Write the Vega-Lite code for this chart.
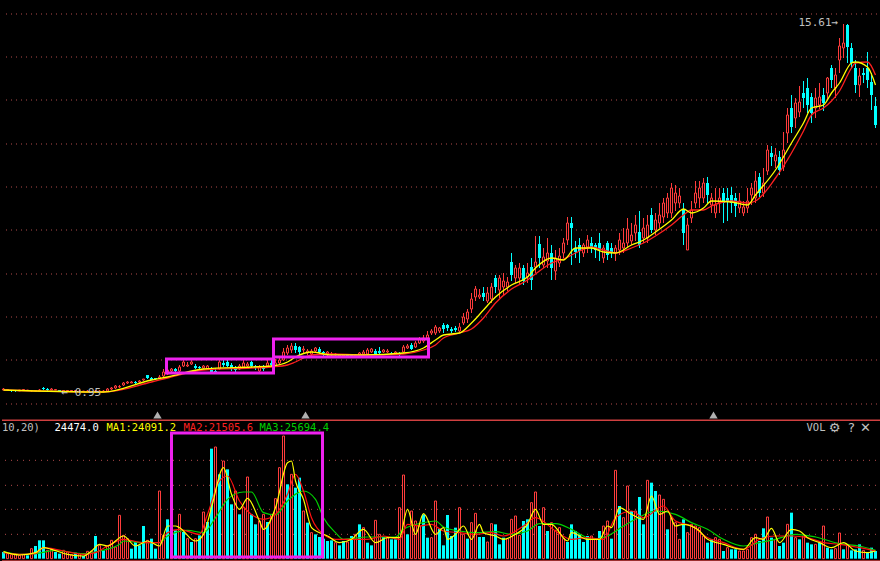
{"$schema":"https://vega.github.io/schema/vega-lite/v6.json","background":"#000000","padding":0,"spacing":0,"config":{"view":{"stroke":null},"concat":{"spacing":0},"scale":{"continuousPadding":0}},
"datasets":{
"candles":[
{"day":0,"open":3,"close":4,"high":5,"low":3},{"day":1,"open":3,"close":3.5,"high":4,"low":3},{"day":2,"open":3,"close":2,"high":3,"low":1},{"day":3,"open":3,"close":2,"high":3,"low":1},{"day":4,"open":2,"close":3,"high":3,"low":2},{"day":5,"open":3,"close":3.5,"high":4,"low":3},{"day":6,"open":2.5,"close":3,"high":3,"low":2},{"day":7,"open":2,"close":2.5,"high":3,"low":1},{"day":8,"open":2,"close":2.5,"high":3,"low":2},{"day":9,"open":2,"close":3,"high":4,"low":2},{"day":10,"open":5,"close":4,"high":6,"low":3},{"day":11,"open":4,"close":3,"high":5,"low":2},{"day":12,"open":3,"close":4,"high":5,"low":3},{"day":13,"open":3,"close":3.5,"high":4,"low":3},{"day":14,"open":3,"close":2,"high":3,"low":1},{"day":15,"open":2,"close":2.5,"high":3,"low":2},{"day":16,"open":2,"close":2.5,"high":3,"low":1},{"day":17,"open":2,"close":2.5,"high":3,"low":1},{"day":18,"open":2,"close":2.5,"high":3,"low":1},{"day":19,"open":1.5,"close":2,"high":3,"low":1},{"day":20,"open":1.5,"close":2,"high":2,"low":1},{"day":21,"open":1.5,"close":2,"high":3,"low":1},{"day":22,"open":1,"close":1.5,"high":2,"low":0},{"day":23,"open":1,"close":2,"high":3,"low":0},{"day":24,"open":1.5,"close":2,"high":3,"low":1},{"day":25,"open":1.5,"close":2,"high":3,"low":1},{"day":26,"open":2,"close":4,"high":5,"low":2},{"day":27,"open":4,"close":5,"high":6,"low":3},{"day":28,"open":5,"close":7,"high":8,"low":4},{"day":29,"open":6,"close":6.5,"high":8,"low":5},{"day":30,"open":8,"close":10,"high":11,"low":7},{"day":31,"open":10,"close":11,"high":12,"low":9},{"day":32,"open":10,"close":11,"high":12,"low":10},{"day":33,"open":11,"close":10,"high":12,"low":9},{"day":34,"open":11,"close":12,"high":13,"low":10},{"day":35,"open":13,"close":14,"high":14,"low":12},{"day":36,"open":18,"close":15,"high":18,"low":14},{"day":37,"open":15,"close":13,"high":16,"low":13},{"day":38,"open":15,"close":14,"high":15,"low":13},{"day":39,"open":15,"close":16,"high":18,"low":15},
{"day":40,"open":17,"close":21,"high":24,"low":16},{"day":41,"open":19,"close":23,"high":24,"low":18},{"day":42,"open":22,"close":24,"high":25,"low":20},{"day":43,"open":24,"close":22,"high":25,"low":21},{"day":44,"open":22,"close":26,"high":28,"low":21},{"day":45,"open":27,"close":31,"high":33,"low":26},{"day":46,"open":27,"close":28,"high":31,"low":26},{"day":47,"open":29,"close":31,"high":33,"low":28},{"day":48,"open":27,"close":25,"high":29,"low":24},{"day":49,"open":26,"close":25,"high":27,"low":23},{"day":50,"open":25,"close":27,"high":28,"low":24},{"day":51,"open":24,"close":27,"high":28,"low":23},{"day":52,"open":23,"close":21,"high":26,"low":20},{"day":53,"open":22,"close":20,"high":25,"low":19},{"day":54,"open":24,"close":31,"high":33,"low":23},{"day":55,"open":30,"close":28,"high":33,"low":26},{"day":56,"open":31,"close":27,"high":33,"low":26},{"day":57,"open":28,"close":24,"high":30,"low":22},{"day":58,"open":25,"close":23,"high":27,"low":21},{"day":59,"open":24,"close":27,"high":29,"low":23},{"day":60,"open":26,"close":30,"high":33,"low":25},{"day":61,"open":27,"close":29,"high":31,"low":25},{"day":62,"open":31,"close":27,"high":32,"low":25},{"day":63,"open":27,"close":25,"high":28,"low":23},{"day":64,"open":22,"close":26,"high":28,"low":21},{"day":65,"open":26,"close":24,"high":28,"low":22},{"day":66,"open":27,"close":30,"high":33,"low":26},{"day":67,"open":30,"close":28,"high":33,"low":26},{"day":68,"open":28,"close":30,"high":34,"low":27},{"day":69,"open":30,"close":33,"high":36,"low":28},{"day":70,"open":33,"close":41,"high":45,"low":32},{"day":71,"open":40,"close":45,"high":48,"low":38},{"day":72,"open":43,"close":47,"high":50,"low":40},{"day":73,"open":47,"close":43,"high":50,"low":40},{"day":74,"open":46,"close":41,"high":47,"low":38},{"day":75,"open":43,"close":44,"high":47,"low":40},{"day":76,"open":40,"close":42,"high":44,"low":38},{"day":77,"open":39,"close":42,"high":44,"low":37},{"day":78,"open":42,"close":45,"high":46,"low":40},{"day":79,"open":44,"close":41,"high":46,"low":39},
{"day":80,"open":41,"close":40,"high":42,"low":35},{"day":81,"open":39,"close":41,"high":42,"low":37},{"day":82,"open":38,"close":39,"high":41,"low":36},{"day":83,"open":38,"close":39,"high":40,"low":37},{"day":84,"open":37,"close":38,"high":39,"low":36},{"day":85,"open":37,"close":38,"high":39,"low":36},{"day":86,"open":38,"close":36,"high":39,"low":36},{"day":87,"open":38,"close":36,"high":39,"low":36},{"day":88,"open":37,"close":38,"high":39,"low":36},{"day":89,"open":38,"close":40,"high":41,"low":37},{"day":90,"open":39,"close":41,"high":43,"low":38},{"day":91,"open":39,"close":43,"high":45,"low":38},{"day":92,"open":41,"close":44,"high":45,"low":40},{"day":93,"open":42,"close":39,"high":44,"low":38},{"day":94,"open":42,"close":40,"high":46,"low":39},{"day":95,"open":41,"close":43,"high":44,"low":40},{"day":96,"open":41,"close":42,"high":44,"low":40},{"day":97,"open":40,"close":39,"high":41,"low":38},{"day":98,"open":40,"close":41,"high":42,"low":39},{"day":99,"open":39,"close":38,"high":41,"low":37},{"day":100,"open":41,"close":46,"high":48,"low":40},{"day":101,"open":45,"close":47,"high":49,"low":44},{"day":102,"open":48,"close":44,"high":50,"low":43},{"day":103,"open":46,"close":50,"high":52,"low":45},{"day":104,"open":50,"close":54,"high":56,"low":49},{"day":105,"open":52,"close":55,"high":58,"low":50},{"day":106,"open":55,"close":58,"high":62,"low":54},{"day":107,"open":60,"close":62,"high":64,"low":58},{"day":108,"open":60,"close":66,"high":68,"low":58},{"day":109,"open":62,"close":65,"high":66,"low":60},{"day":110,"open":68,"close":64,"high":70,"low":60},{"day":111,"open":68,"close":65,"high":69,"low":62},{"day":112,"open":64,"close":62,"high":66,"low":60},{"day":113,"open":65,"close":63,"high":67,"low":61},{"day":114,"open":62,"close":66,"high":70,"low":60},{"day":115,"open":70,"close":76,"high":80,"low":68},{"day":116,"open":74,"close":81,"high":84,"low":70},{"day":117,"open":84,"close":94,"high":100,"low":80},{"day":118,"open":96,"close":104,"high":107,"low":92},{"day":119,"open":96,"close":98,"high":104,"low":94},
{"day":120,"open":100,"close":96,"high":106,"low":92},{"day":121,"open":92,"close":100,"high":106,"low":90},{"day":122,"open":94,"close":106,"high":110,"low":90},{"day":123,"open":115,"close":106,"high":118,"low":100},{"day":124,"open":103,"close":115,"high":118,"low":95},{"day":125,"open":106,"close":112,"high":120,"low":98},{"day":126,"open":106,"close":111,"high":116,"low":102},{"day":127,"open":131,"close":118,"high":140,"low":112},{"day":128,"open":115,"close":125,"high":128,"low":110},{"day":129,"open":115,"close":125,"high":130,"low":108},{"day":130,"open":125,"close":112,"high":128,"low":108},{"day":131,"open":116,"close":120,"high":130,"low":110},{"day":132,"open":126,"close":113,"high":135,"low":103},{"day":133,"open":126,"close":131,"high":157,"low":120},{"day":134,"open":149,"close":135,"high":157,"low":125},{"day":135,"open":128,"close":136,"high":145,"low":125},{"day":136,"open":132,"close":140,"high":155,"low":125},{"day":137,"open":140,"close":125,"high":148,"low":113},{"day":138,"open":122,"close":135,"high":143,"low":113},{"day":139,"open":130,"close":137,"high":145,"low":126},{"day":140,"open":140,"close":150,"high":155,"low":135},{"day":141,"open":153,"close":170,"high":176,"low":148},{"day":142,"open":170,"close":165,"high":176,"low":128},{"day":143,"open":145,"close":141,"high":152,"low":135},{"day":144,"open":148,"close":142,"high":155,"low":130},{"day":145,"open":140,"close":148,"high":150,"low":136},{"day":146,"open":146,"close":153,"high":158,"low":140},{"day":147,"open":150,"close":146,"high":156,"low":140},{"day":148,"open":148,"close":143,"high":150,"low":135},{"day":149,"open":150,"close":143,"high":160,"low":132},{"day":150,"open":135,"close":145,"high":148,"low":130},{"day":151,"open":150,"close":138,"high":152,"low":133},{"day":152,"open":145,"close":140,"high":150,"low":135},{"day":153,"open":140,"close":145,"high":148,"low":132},{"day":154,"open":143,"close":153,"high":160,"low":138},{"day":155,"open":145,"close":150,"high":165,"low":140},{"day":156,"open":150,"close":164,"high":175,"low":146},{"day":157,"open":152,"close":158,"high":170,"low":148},{"day":158,"open":160,"close":168,"high":178,"low":152},{"day":159,"open":161,"close":148,"high":182,"low":145},
{"day":160,"open":155,"close":165,"high":175,"low":150},{"day":161,"open":155,"close":168,"high":178,"low":150},{"day":162,"open":178,"close":163,"high":185,"low":160},{"day":163,"open":163,"close":173,"high":180,"low":158},{"day":164,"open":170,"close":178,"high":190,"low":165},{"day":165,"open":176,"close":190,"high":195,"low":170},{"day":166,"open":180,"close":195,"high":200,"low":175},{"day":167,"open":180,"close":205,"high":210,"low":175},{"day":168,"open":190,"close":200,"high":208,"low":182},{"day":169,"open":190,"close":197,"high":205,"low":185},{"day":170,"open":183,"close":160,"high":190,"low":148},{"day":171,"open":143,"close":168,"high":175,"low":143},{"day":172,"open":175,"close":183,"high":192,"low":170},{"day":173,"open":190,"close":200,"high":212,"low":185},{"day":174,"open":195,"close":205,"high":212,"low":185},{"day":175,"open":195,"close":210,"high":215,"low":190},{"day":176,"open":210,"close":198,"high":216,"low":190},{"day":177,"open":188,"close":195,"high":200,"low":180},{"day":178,"open":180,"close":188,"high":205,"low":175},{"day":179,"open":190,"close":195,"high":205,"low":180},{"day":180,"open":200,"close":190,"high":205,"low":170},{"day":181,"open":195,"close":192,"high":205,"low":172},{"day":182,"open":198,"close":190,"high":206,"low":180},{"day":183,"open":195,"close":187,"high":200,"low":176},{"day":184,"open":185,"close":192,"high":200,"low":180},{"day":185,"open":180,"close":186,"high":192,"low":177},{"day":186,"open":185,"close":192,"high":205,"low":180},{"day":187,"open":198,"close":205,"high":210,"low":188},{"day":188,"open":195,"close":212,"high":222,"low":190},{"day":189,"open":216,"close":200,"high":220,"low":196},{"day":190,"open":200,"close":210,"high":225,"low":196},{"day":191,"open":222,"close":243,"high":248,"low":218},{"day":192,"open":240,"close":236,"high":247,"low":227},{"day":193,"open":232,"close":238,"high":245,"low":225},{"day":194,"open":236,"close":223,"high":242,"low":218},{"day":195,"open":226,"close":243,"high":261,"low":222},{"day":196,"open":260,"close":278,"high":285,"low":250},{"day":197,"open":285,"close":266,"high":298,"low":260},{"day":198,"open":275,"close":290,"high":295,"low":265},{"day":199,"open":281,"close":291,"high":307,"low":276},
{"day":200,"open":300,"close":295,"high":312,"low":285},{"day":201,"open":305,"close":288,"high":315,"low":280},{"day":202,"open":296,"close":280,"high":300,"low":270},{"day":203,"open":285,"close":295,"high":305,"low":275},{"day":204,"open":288,"close":296,"high":310,"low":284},{"day":205,"open":298,"close":290,"high":305,"low":282},{"day":206,"open":300,"close":315,"high":316,"low":293},{"day":207,"open":325,"close":313,"high":328,"low":305},{"day":208,"open":305,"close":318,"high":325,"low":295},{"day":209,"open":333,"close":347,"high":355,"low":320},{"day":210,"open":345,"close":350,"high":369,"low":335},{"day":211,"open":368,"close":346,"high":369,"low":330},{"day":212,"open":345,"close":330,"high":350,"low":325},{"day":213,"open":325,"close":308,"high":333,"low":300},{"day":214,"open":308,"close":317,"high":325,"low":296},{"day":215,"open":320,"close":318,"high":325,"low":310},{"day":216,"open":325,"close":313,"high":341,"low":305},{"day":217,"open":311,"close":298,"high":320,"low":283},{"day":218,"open":287,"close":268,"high":296,"low":265}],
"vol":[
{"day":0,"volume":20,"dir":"down"},{"day":1,"volume":15,"dir":"up"},{"day":2,"volume":12,"dir":"up"},{"day":3,"volume":14,"dir":"up"},{"day":4,"volume":10,"dir":"up"},{"day":5,"volume":12,"dir":"up"},{"day":6,"volume":10,"dir":"down"},{"day":7,"volume":30,"dir":"up"},{"day":8,"volume":38,"dir":"down"},{"day":9,"volume":55,"dir":"down"},{"day":10,"volume":55,"dir":"down"},{"day":11,"volume":25,"dir":"up"},{"day":12,"volume":30,"dir":"up"},{"day":13,"volume":20,"dir":"down"},{"day":14,"volume":15,"dir":"down"},{"day":15,"volume":25,"dir":"up"},{"day":16,"volume":20,"dir":"up"},{"day":17,"volume":12,"dir":"up"},{"day":18,"volume":18,"dir":"down"},{"day":19,"volume":15,"dir":"up"},{"day":20,"volume":8,"dir":"down"},{"day":21,"volume":22,"dir":"up"},{"day":22,"volume":22,"dir":"up"},{"day":23,"volume":68,"dir":"down"},{"day":24,"volume":40,"dir":"up"},{"day":25,"volume":25,"dir":"down"},{"day":26,"volume":38,"dir":"up"},{"day":27,"volume":55,"dir":"up"},{"day":28,"volume":35,"dir":"up"},{"day":29,"volume":130,"dir":"up"},{"day":30,"volume":70,"dir":"up"},{"day":31,"volume":60,"dir":"up"},{"day":32,"volume":30,"dir":"down"},{"day":33,"volume":50,"dir":"down"},{"day":34,"volume":40,"dir":"down"},{"day":35,"volume":98,"dir":"down"},{"day":36,"volume":55,"dir":"up"},{"day":37,"volume":60,"dir":"down"},{"day":38,"volume":30,"dir":"down"},{"day":39,"volume":203,"dir":"up"},{"day":40,"volume":70,"dir":"up"},{"day":41,"volume":118,"dir":"down"},{"day":42,"volume":163,"dir":"up"},{"day":43,"volume":85,"dir":"down"},{"day":44,"volume":133,"dir":"up"},{"day":45,"volume":80,"dir":"down"},{"day":46,"volume":60,"dir":"up"},{"day":47,"volume":50,"dir":"down"},{"day":48,"volume":60,"dir":"up"},{"day":49,"volume":70,"dir":"down"},{"day":50,"volume":140,"dir":"up"},{"day":51,"volume":110,"dir":"down"},{"day":52,"volume":330,"dir":"down"},{"day":53,"volume":335,"dir":"up"},{"day":54,"volume":253,"dir":"down"},{"day":55,"volume":293,"dir":"up"},{"day":56,"volume":268,"dir":"down"},{"day":57,"volume":163,"dir":"down"},{"day":58,"volume":203,"dir":"up"},{"day":59,"volume":133,"dir":"down"},{"day":60,"volume":153,"dir":"up"},{"day":61,"volume":245,"dir":"up"},{"day":62,"volume":133,"dir":"down"},{"day":63,"volume":103,"dir":"down"},{"day":64,"volume":113,"dir":"up"},{"day":65,"volume":133,"dir":"up"},{"day":66,"volume":110,"dir":"down"},{"day":67,"volume":133,"dir":"up"},{"day":68,"volume":180,"dir":"up"},{"day":69,"volume":273,"dir":"up"},{"day":70,"volume":368,"dir":"up"},{"day":71,"volume":223,"dir":"down"},{"day":72,"volume":253,"dir":"up"},{"day":73,"volume":213,"dir":"down"},{"day":74,"volume":243,"dir":"down"},{"day":75,"volume":143,"dir":"up"},{"day":76,"volume":108,"dir":"down"},{"day":77,"volume":78,"dir":"up"},{"day":78,"volume":73,"dir":"down"},{"day":79,"volume":65,"dir":"down"},{"day":80,"volume":60,"dir":"down"},{"day":81,"volume":53,"dir":"down"},{"day":82,"volume":55,"dir":"down"},{"day":83,"volume":48,"dir":"up"},{"day":84,"volume":40,"dir":"down"},{"day":85,"volume":53,"dir":"down"},{"day":86,"volume":50,"dir":"up"},{"day":87,"volume":68,"dir":"down"},{"day":88,"volume":73,"dir":"up"},{"day":89,"volume":103,"dir":"down"},{"day":90,"volume":93,"dir":"up"},{"day":91,"volume":48,"dir":"down"},{"day":92,"volume":40,"dir":"down"},{"day":93,"volume":115,"dir":"up"},{"day":94,"volume":73,"dir":"up"},{"day":95,"volume":65,"dir":"down"},{"day":96,"volume":63,"dir":"up"},{"day":97,"volume":58,"dir":"down"},{"day":98,"volume":58,"dir":"down"},{"day":99,"volume":153,"dir":"up"},{"day":100,"volume":251,"dir":"up"},{"day":101,"volume":73,"dir":"down"},{"day":102,"volume":143,"dir":"up"},{"day":103,"volume":113,"dir":"up"},{"day":104,"volume":98,"dir":"up"},{"day":105,"volume":133,"dir":"down"},{"day":106,"volume":63,"dir":"down"},{"day":107,"volume":63,"dir":"up"},{"day":108,"volume":173,"dir":"up"},{"day":109,"volume":90,"dir":"down"},
{"day":110,"volume":40,"dir":"down"},{"day":111,"volume":131,"dir":"down"},{"day":112,"volume":68,"dir":"down"},{"day":113,"volume":93,"dir":"down"},{"day":114,"volume":153,"dir":"up"},{"day":115,"volume":73,"dir":"up"},{"day":116,"volume":60,"dir":"down"},{"day":117,"volume":108,"dir":"up"},{"day":118,"volume":136,"dir":"up"},{"day":119,"volume":65,"dir":"down"},{"day":120,"volume":65,"dir":"down"},{"day":121,"volume":50,"dir":"up"},{"day":122,"volume":105,"dir":"up"},{"day":123,"volume":103,"dir":"down"},{"day":124,"volume":43,"dir":"down"},{"day":125,"volume":63,"dir":"down"},{"day":126,"volume":60,"dir":"up"},{"day":127,"volume":118,"dir":"up"},{"day":128,"volume":128,"dir":"up"},{"day":129,"volume":70,"dir":"up"},{"day":130,"volume":113,"dir":"down"},{"day":131,"volume":118,"dir":"down"},{"day":132,"volume":168,"dir":"up"},{"day":133,"volume":200,"dir":"up"},{"day":134,"volume":98,"dir":"down"},{"day":135,"volume":153,"dir":"up"},{"day":136,"volume":83,"dir":"down"},{"day":137,"volume":108,"dir":"up"},{"day":138,"volume":85,"dir":"up"},{"day":139,"volume":93,"dir":"up"},{"day":140,"volume":60,"dir":"up"},{"day":141,"volume":50,"dir":"down"},{"day":142,"volume":103,"dir":"down"},{"day":143,"volume":83,"dir":"down"},{"day":144,"volume":73,"dir":"down"},{"day":145,"volume":50,"dir":"down"},{"day":146,"volume":68,"dir":"down"},{"day":147,"volume":68,"dir":"up"},{"day":148,"volume":58,"dir":"up"},{"day":149,"volume":83,"dir":"down"},{"day":150,"volume":98,"dir":"up"},{"day":151,"volume":113,"dir":"up"},{"day":152,"volume":60,"dir":"down"},{"day":153,"volume":265,"dir":"up"},{"day":154,"volume":158,"dir":"down"},{"day":155,"volume":123,"dir":"up"},{"day":156,"volume":218,"dir":"up"},{"day":157,"volume":143,"dir":"down"},{"day":158,"volume":143,"dir":"up"},{"day":159,"volume":185,"dir":"down"},{"day":160,"volume":103,"dir":"down"},{"day":161,"volume":235,"dir":"up"},{"day":162,"volume":228,"dir":"down"},{"day":163,"volume":203,"dir":"down"},{"day":164,"volume":191,"dir":"up"},{"day":165,"volume":178,"dir":"up"},{"day":166,"volume":88,"dir":"down"},{"day":167,"volume":123,"dir":"up"},{"day":168,"volume":108,"dir":"up"},{"day":169,"volume":58,"dir":"up"},{"day":170,"volume":118,"dir":"down"},{"day":171,"volume":78,"dir":"up"},{"day":172,"volume":103,"dir":"up"},{"day":173,"volume":98,"dir":"up"},{"day":174,"volume":93,"dir":"up"},{"day":175,"volume":68,"dir":"up"},{"day":176,"volume":48,"dir":"down"},{"day":177,"volume":58,"dir":"down"},{"day":178,"volume":63,"dir":"up"},{"day":179,"volume":58,"dir":"up"},{"day":180,"volume":23,"dir":"down"},{"day":181,"volume":33,"dir":"up"},{"day":182,"volume":28,"dir":"down"},{"day":183,"volume":28,"dir":"down"},{"day":184,"volume":23,"dir":"up"},{"day":185,"volume":23,"dir":"up"},{"day":186,"volume":28,"dir":"up"},{"day":187,"volume":63,"dir":"up"},{"day":188,"volume":73,"dir":"up"},{"day":189,"volume":53,"dir":"down"},{"day":190,"volume":91,"dir":"down"},{"day":191,"volume":125,"dir":"up"},{"day":192,"volume":63,"dir":"down"},{"day":193,"volume":58,"dir":"up"},{"day":194,"volume":38,"dir":"down"},{"day":195,"volume":48,"dir":"down"},{"day":196,"volume":103,"dir":"up"},{"day":197,"volume":138,"dir":"down"},{"day":198,"volume":63,"dir":"up"},{"day":199,"volume":58,"dir":"down"},{"day":200,"volume":68,"dir":"up"},{"day":201,"volume":48,"dir":"down"},{"day":202,"volume":43,"dir":"down"},{"day":203,"volume":43,"dir":"up"},{"day":204,"volume":48,"dir":"down"},{"day":205,"volume":98,"dir":"up"},{"day":206,"volume":33,"dir":"down"},{"day":207,"volume":28,"dir":"down"},{"day":208,"volume":30,"dir":"up"},{"day":209,"volume":77,"dir":"up"},{"day":210,"volume":28,"dir":"down"},{"day":211,"volume":43,"dir":"up"},{"day":212,"volume":25,"dir":"down"},{"day":213,"volume":28,"dir":"down"},{"day":214,"volume":43,"dir":"down"},{"day":215,"volume":25,"dir":"up"},{"day":216,"volume":18,"dir":"down"},{"day":217,"volume":33,"dir":"down"},{"day":218,"volume":23,"dir":"down"}],
"priceMA1":[{"day":0,"ma":3},{"day":25,"ma":1},{"day":37,"ma":13},{"day":41,"ma":16},{"day":50,"ma":24},{"day":62,"ma":26},{"day":67,"ma":27},{"day":71,"ma":31},{"day":73,"ma":36},{"day":77,"ma":41},{"day":82,"ma":38},{"day":90,"ma":38},{"day":100,"ma":40},{"day":105,"ma":45},{"day":108,"ma":53},{"day":110,"ma":58},{"day":114,"ma":60},{"day":117,"ma":70},{"day":120,"ma":83},{"day":123,"ma":96},{"day":127,"ma":108},{"day":131,"ma":116},{"day":133,"ma":125},{"day":137,"ma":135},{"day":140,"ma":133},{"day":143,"ma":145},{"day":147,"ma":145},{"day":150,"ma":141},{"day":153,"ma":140},{"day":157,"ma":148},{"day":160,"ma":153},{"day":163,"ma":161},{"day":167,"ma":173},{"day":170,"ma":184},{"day":172,"ma":180},{"day":175,"ma":185},{"day":177,"ma":192},{"day":182,"ma":191},{"day":186,"ma":188},{"day":188,"ma":198},{"day":193,"ma":223},{"day":197,"ma":250},{"day":200,"ma":270},{"day":202,"ma":285},{"day":205,"ma":288},{"day":207,"ma":300},{"day":209,"ma":310},{"day":212,"ma":330},{"day":213,"ma":331},{"day":216,"ma":326},{"day":218,"ma":308}],
"priceMA2":[{"day":0,"ma":3},{"day":25,"ma":1},{"day":37,"ma":11},{"day":41,"ma":15},{"day":50,"ma":23},{"day":62,"ma":25},{"day":67,"ma":26},{"day":71,"ma":28},{"day":73,"ma":31},{"day":77,"ma":38},{"day":82,"ma":39},{"day":90,"ma":38},{"day":100,"ma":39},{"day":105,"ma":43},{"day":108,"ma":48},{"day":110,"ma":55},{"day":114,"ma":60},{"day":117,"ma":64},{"day":120,"ma":75},{"day":123,"ma":90},{"day":127,"ma":104},{"day":131,"ma":113},{"day":133,"ma":119},{"day":137,"ma":130},{"day":140,"ma":134},{"day":143,"ma":140},{"day":147,"ma":146},{"day":150,"ma":143},{"day":153,"ma":140},{"day":157,"ma":145},{"day":160,"ma":150},{"day":163,"ma":157},{"day":167,"ma":168},{"day":170,"ma":178},{"day":172,"ma":183},{"day":175,"ma":183},{"day":177,"ma":187},{"day":182,"ma":192},{"day":186,"ma":190},{"day":188,"ma":192},{"day":193,"ma":215},{"day":197,"ma":240},{"day":200,"ma":262},{"day":202,"ma":278},{"day":205,"ma":285},{"day":207,"ma":292},{"day":209,"ma":302},{"day":212,"ma":325},{"day":213,"ma":330},{"day":216,"ma":331},{"day":218,"ma":318}],
"volMA1":[{"day":0,"ma":21},{"day":4,"ma":11},{"day":8,"ma":18},{"day":10,"ma":33},{"day":12,"ma":28},{"day":16,"ma":13},{"day":20,"ma":8},{"day":22,"ma":23},{"day":24,"ma":43},{"day":26,"ma":38},{"day":30,"ma":68},{"day":33,"ma":38},{"day":36,"ma":53},{"day":39,"ma":38},{"day":41,"ma":98},{"day":43,"ma":98},{"day":44,"ma":93},{"day":48,"ma":53},{"day":50,"ma":73},{"day":52,"ma":153},{"day":55,"ma":273},{"day":57,"ma":193},{"day":59,"ma":148},{"day":61,"ma":181},{"day":64,"ma":113},{"day":65,"ma":88},{"day":68,"ma":153},{"day":71,"ma":288},{"day":72,"ma":293},{"day":73,"ma":233},{"day":75,"ma":178},{"day":77,"ma":93},{"day":79,"ma":78},{"day":81,"ma":68},{"day":84,"ma":48},{"day":87,"ma":58},{"day":90,"ma":88},{"day":93,"ma":48},{"day":96,"ma":63},{"day":99,"ma":63},{"day":101,"ma":148},{"day":103,"ma":73},{"day":105,"ma":135},{"day":108,"ma":73},{"day":110,"ma":93},{"day":111,"ma":58},{"day":113,"ma":73},{"day":115,"ma":98},{"day":117,"ma":58},{"day":119,"ma":103},{"day":120,"ma":78},{"day":123,"ma":68},{"day":125,"ma":58},{"day":128,"ma":73},{"day":131,"ma":103},{"day":133,"ma":148},{"day":135,"ma":103},{"day":137,"ma":103},{"day":141,"ma":53},{"day":142,"ma":78},{"day":146,"ma":58},{"day":149,"ma":58},{"day":151,"ma":98},{"day":152,"ma":93},{"day":154,"ma":153},{"day":157,"ma":133},{"day":160,"ma":118},{"day":162,"ma":188},{"day":164,"ma":133},{"day":166,"ma":143},{"day":168,"ma":98},{"day":170,"ma":103},{"day":174,"ma":83},{"day":176,"ma":58},{"day":180,"ma":43},{"day":183,"ma":31},{"day":185,"ma":28},{"day":188,"ma":63},{"day":190,"ma":58},{"day":192,"ma":91},{"day":194,"ma":48},{"day":197,"ma":88},{"day":199,"ma":83},{"day":201,"ma":63},{"day":204,"ma":48},{"day":207,"ma":33},{"day":210,"ma":48},{"day":213,"ma":23},{"day":216,"ma":18},{"day":218,"ma":23}],
"volMA2":[{"day":0,"ma":18},{"day":4,"ma":13},{"day":8,"ma":15},{"day":10,"ma":33},{"day":15,"ma":23},{"day":20,"ma":13},{"day":23,"ma":18},{"day":26,"ma":38},{"day":30,"ma":58},{"day":35,"ma":48},{"day":39,"ma":48},{"day":41,"ma":78},{"day":44,"ma":88},{"day":49,"ma":73},{"day":51,"ma":133},{"day":54,"ma":233},{"day":56,"ma":248},{"day":59,"ma":173},{"day":61,"ma":143},{"day":65,"ma":118},{"day":68,"ma":133},{"day":71,"ma":193},{"day":73,"ma":253},{"day":75,"ma":203},{"day":77,"ma":123},{"day":80,"ma":73},{"day":83,"ma":58},{"day":87,"ma":58},{"day":91,"ma":58},{"day":95,"ma":68},{"day":99,"ma":58},{"day":101,"ma":103},{"day":104,"ma":98},{"day":107,"ma":103},{"day":110,"ma":83},{"day":114,"ma":78},{"day":118,"ma":73},{"day":122,"ma":78},{"day":125,"ma":68},{"day":130,"ma":98},{"day":133,"ma":123},{"day":138,"ma":83},{"day":142,"ma":58},{"day":146,"ma":63},{"day":150,"ma":58},{"day":153,"ma":123},{"day":157,"ma":143},{"day":160,"ma":123},{"day":165,"ma":158},{"day":168,"ma":113},{"day":172,"ma":98},{"day":176,"ma":63},{"day":180,"ma":48},{"day":185,"ma":28},{"day":189,"ma":58},{"day":193,"ma":68},{"day":197,"ma":68},{"day":201,"ma":63},{"day":205,"ma":48},{"day":209,"ma":43},{"day":214,"ma":33},{"day":218,"ma":23}],
"volMA3":[{"day":0,"ma":21},{"day":4,"ma":13},{"day":8,"ma":15},{"day":13,"ma":25},{"day":20,"ma":15},{"day":24,"ma":23},{"day":29,"ma":43},{"day":30,"ma":53},{"day":35,"ma":48},{"day":39,"ma":48},{"day":41,"ma":68},{"day":46,"ma":85},{"day":50,"ma":78},{"day":53,"ma":123},{"day":56,"ma":178},{"day":60,"ma":200},{"day":62,"ma":200},{"day":65,"ma":138},{"day":68,"ma":131},{"day":71,"ma":173},{"day":75,"ma":203},{"day":78,"ma":178},{"day":80,"ma":123},{"day":83,"ma":78},{"day":85,"ma":58},{"day":91,"ma":65},{"day":98,"ma":65},{"day":100,"ma":88},{"day":105,"ma":108},{"day":108,"ma":113},{"day":110,"ma":95},{"day":114,"ma":83},{"day":118,"ma":78},{"day":123,"ma":81},{"day":127,"ma":73},{"day":131,"ma":83},{"day":134,"ma":105},{"day":138,"ma":105},{"day":142,"ma":88},{"day":145,"ma":68},{"day":147,"ma":58},{"day":151,"ma":68},{"day":155,"ma":98},{"day":159,"ma":125},{"day":163,"ma":143},{"day":168,"ma":133},{"day":172,"ma":108},{"day":176,"ma":88},{"day":180,"ma":58},{"day":185,"ma":38},{"day":189,"ma":48},{"day":193,"ma":58},{"day":198,"ma":73},{"day":203,"ma":65},{"day":209,"ma":45},{"day":214,"ma":38},{"day":218,"ma":25}]
},
"vconcat":[
{"width":880,"height":419,
"layer":[
{"data":{"values":[{"lvl":379},{"lvl":336},{"lvl":293},{"lvl":249},{"lvl":206},{"lvl":163},{"lvl":119},{"lvl":76},{"lvl":33},{"lvl":-11}]},"mark":{"type":"rule","color":"#b04a4a","strokeWidth":1,"strokeDash":[1,4]},"encoding":{"y":{"field":"lvl","type":"quantitative","axis":null,"scale":{"domain":[-26,393],"nice":false,"zero":false}}}},
{"data":{"name":"candles"},"transform":[{"filter":"datum.close>=datum.open"}],"mark":{"type":"rule","color":"#ff3c3c","strokeWidth":1},"encoding":{"x":{"field":"day","type":"quantitative","axis":null,"scale":{"domain":[-0.375,219.625],"nice":false,"zero":false}},"y":{"field":"low","type":"quantitative","axis":null,"scale":{"domain":[-26,393],"nice":false,"zero":false}},"y2":{"field":"high"}}},
{"data":{"name":"candles"},"transform":[{"filter":"datum.close<datum.open"}],"mark":{"type":"rule","color":"#00ffff","strokeWidth":1},"encoding":{"x":{"field":"day","type":"quantitative","axis":null,"scale":{"domain":[-0.375,219.625],"nice":false,"zero":false}},"y":{"field":"low","type":"quantitative","axis":null,"scale":{"domain":[-26,393],"nice":false,"zero":false}},"y2":{"field":"high"}}},
{"data":{"name":"candles"},"transform":[{"filter":"datum.close>=datum.open"}],"mark":{"type":"bar","orient":"vertical","size":2,"fill":"#000000","stroke":"#ff3c3c","strokeWidth":1},"encoding":{"x":{"field":"day","type":"quantitative","axis":null,"scale":{"domain":[-0.375,219.625],"nice":false,"zero":false}},"y":{"field":"open","type":"quantitative","axis":null,"scale":{"domain":[-26,393],"nice":false,"zero":false}},"y2":{"field":"close"}}},
{"data":{"name":"candles"},"transform":[{"filter":"datum.close<datum.open"}],"mark":{"type":"bar","orient":"vertical","size":3,"fill":"#00ffff"},"encoding":{"x":{"field":"day","type":"quantitative","axis":null,"scale":{"domain":[-0.375,219.625],"nice":false,"zero":false}},"y":{"field":"open","type":"quantitative","axis":null,"scale":{"domain":[-26,393],"nice":false,"zero":false}},"y2":{"field":"close"}}},
{"data":{"name":"priceMA2"},"mark":{"type":"line","color":"#ff2020","strokeWidth":1.3,"interpolate":"monotone"},"encoding":{"x":{"field":"day","type":"quantitative","axis":null,"scale":{"domain":[-0.375,219.625],"nice":false,"zero":false}},"y":{"field":"ma","type":"quantitative","axis":null,"scale":{"domain":[-26,393],"nice":false,"zero":false}}}},
{"data":{"name":"priceMA1"},"mark":{"type":"line","color":"#ffff00","strokeWidth":1.3,"interpolate":"monotone"},"encoding":{"x":{"field":"day","type":"quantitative","axis":null,"scale":{"domain":[-0.375,219.625],"nice":false,"zero":false}},"y":{"field":"ma","type":"quantitative","axis":null,"scale":{"domain":[-26,393],"nice":false,"zero":false}}}},
{"data":{"values":[{"day":40.75,"end":67.5,"hi":34,"lo":20},{"day":67.5,"end":106.25,"hi":54,"lo":36}]},"mark":{"type":"rect","fill":"transparent","stroke":"#ee22ee","strokeWidth":3},"encoding":{"x":{"field":"day","type":"quantitative","axis":null,"scale":{"domain":[-0.375,219.625],"nice":false,"zero":false}},"x2":{"field":"end"},"y":{"field":"hi","type":"quantitative","axis":null,"scale":{"domain":[-26,393],"nice":false,"zero":false}},"y2":{"field":"lo"}}},
{"data":{"values":[{"day":198.75,"lvl":370,"label":"15.61→"},{"day":14.5,"lvl":0,"label":"← 0.95"}]},"mark":{"type":"text","align":"left","baseline":"middle","font":"DejaVu Sans Mono","fontSize":11,"color":"#c0c0c0"},"encoding":{"x":{"field":"day","type":"quantitative","axis":null,"scale":{"domain":[-0.375,219.625],"nice":false,"zero":false}},"y":{"field":"lvl","type":"quantitative","axis":null,"scale":{"domain":[-26,393],"nice":false,"zero":false}},"text":{"field":"label"}}},
{"data":{"values":[{"day":38.5,"lvl":-22},{"day":75.5,"lvl":-22},{"day":177.5,"lvl":-22}]},"mark":{"type":"point","shape":"triangle-up","filled":true,"size":70,"color":"#b0b0b0","opacity":1},"encoding":{"x":{"field":"day","type":"quantitative","axis":null,"scale":{"domain":[-0.375,219.625],"nice":false,"zero":false}},"y":{"field":"lvl","type":"quantitative","axis":null,"scale":{"domain":[-26,393],"nice":false,"zero":false}}}}
]},
{"width":880,"height":142,
"layer":[
{"data":{"values":[{"lvl":295},{"lvl":220},{"lvl":148},{"lvl":73}]},"mark":{"type":"rule","color":"#b04a4a","strokeWidth":1,"strokeDash":[1,5]},"encoding":{"y":{"field":"lvl","type":"quantitative","axis":null,"scale":{"domain":[-10,416],"nice":false,"zero":false}}}},
{"data":{"values":[{"lvl":415},{"lvl":-7}]},"mark":{"type":"rule","color":"#d04040","strokeWidth":1.5},"encoding":{"y":{"field":"lvl","type":"quantitative","axis":null,"scale":{"domain":[-10,416],"nice":false,"zero":false}}}},
{"data":{"values":[{"day":219.5}]},"mark":{"type":"rule","color":"#a03c3c","strokeWidth":1},"encoding":{"x":{"field":"day","type":"quantitative","axis":null,"scale":{"domain":[-0.375,219.625],"nice":false,"zero":false}}}},
{"data":{"name":"vol"},"transform":[{"filter":"datum.dir==='up'"}],"mark":{"type":"bar","orient":"vertical","size":2,"fill":"#000000","stroke":"#ff3c3c","strokeWidth":1},"encoding":{"x":{"field":"day","type":"quantitative","axis":null,"scale":{"domain":[-0.375,219.625],"nice":false,"zero":false}},"y":{"field":"volume","type":"quantitative","axis":null,"stack":null,"scale":{"domain":[-10,416],"nice":false,"zero":false}}}},
{"data":{"name":"vol"},"transform":[{"filter":"datum.dir==='down'"}],"mark":{"type":"bar","orient":"vertical","size":3,"fill":"#00ffff"},"encoding":{"x":{"field":"day","type":"quantitative","axis":null,"scale":{"domain":[-0.375,219.625],"nice":false,"zero":false}},"y":{"field":"volume","type":"quantitative","axis":null,"stack":null,"scale":{"domain":[-10,416],"nice":false,"zero":false}}}},
{"data":{"name":"volMA3"},"mark":{"type":"line","color":"#00d000","strokeWidth":1.2,"interpolate":"monotone"},"encoding":{"x":{"field":"day","type":"quantitative","axis":null,"scale":{"domain":[-0.375,219.625],"nice":false,"zero":false}},"y":{"field":"ma","type":"quantitative","axis":null,"scale":{"domain":[-10,416],"nice":false,"zero":false}}}},
{"data":{"name":"volMA2"},"mark":{"type":"line","color":"#ff1010","strokeWidth":1.2,"interpolate":"monotone"},"encoding":{"x":{"field":"day","type":"quantitative","axis":null,"scale":{"domain":[-0.375,219.625],"nice":false,"zero":false}},"y":{"field":"ma","type":"quantitative","axis":null,"scale":{"domain":[-10,416],"nice":false,"zero":false}}}},
{"data":{"name":"volMA1"},"mark":{"type":"line","color":"#ffff00","strokeWidth":1.2,"interpolate":"monotone"},"encoding":{"x":{"field":"day","type":"quantitative","axis":null,"scale":{"domain":[-0.375,219.625],"nice":false,"zero":false}},"y":{"field":"ma","type":"quantitative","axis":null,"scale":{"domain":[-10,416],"nice":false,"zero":false}}}},
{"data":{"values":[{"day":-0.375,"lvl":392,"label":"10,20)"},{"day":200.75,"lvl":392,"label":"VOL"}]},"mark":{"type":"text","align":"left","baseline":"middle","font":"DejaVu Sans Mono","fontSize":10.5,"color":"#c0c0c0"},"encoding":{"x":{"field":"day","type":"quantitative","axis":null,"scale":{"domain":[-0.375,219.625],"nice":false,"zero":false}},"y":{"field":"lvl","type":"quantitative","axis":null,"scale":{"domain":[-10,416],"nice":false,"zero":false}},"text":{"field":"label"}}},
{"data":{"values":[{"day":12.75,"lvl":392,"label":"24474.0"}]},"mark":{"type":"text","align":"left","baseline":"middle","font":"DejaVu Sans Mono","fontSize":10.5,"color":"#ffffff"},"encoding":{"x":{"field":"day","type":"quantitative","axis":null,"scale":{"domain":[-0.375,219.625],"nice":false,"zero":false}},"y":{"field":"lvl","type":"quantitative","axis":null,"scale":{"domain":[-10,416],"nice":false,"zero":false}},"text":{"field":"label"}}},
{"data":{"values":[{"day":25.75,"lvl":392,"label":"MA1:24091.2"}]},"mark":{"type":"text","align":"left","baseline":"middle","font":"DejaVu Sans Mono","fontSize":10.5,"color":"#ffff00"},"encoding":{"x":{"field":"day","type":"quantitative","axis":null,"scale":{"domain":[-0.375,219.625],"nice":false,"zero":false}},"y":{"field":"lvl","type":"quantitative","axis":null,"scale":{"domain":[-10,416],"nice":false,"zero":false}},"text":{"field":"label"}}},
{"data":{"values":[{"day":45,"lvl":392,"label":"MA2:21505.6"}]},"mark":{"type":"text","align":"left","baseline":"middle","font":"DejaVu Sans Mono","fontSize":10.5,"color":"#ff2020"},"encoding":{"x":{"field":"day","type":"quantitative","axis":null,"scale":{"domain":[-0.375,219.625],"nice":false,"zero":false}},"y":{"field":"lvl","type":"quantitative","axis":null,"scale":{"domain":[-10,416],"nice":false,"zero":false}},"text":{"field":"label"}}},
{"data":{"values":[{"day":64,"lvl":392,"label":"MA3:25694.4"}]},"mark":{"type":"text","align":"left","baseline":"middle","font":"DejaVu Sans Mono","fontSize":10.5,"color":"#00d000"},"encoding":{"x":{"field":"day","type":"quantitative","axis":null,"scale":{"domain":[-0.375,219.625],"nice":false,"zero":false}},"y":{"field":"lvl","type":"quantitative","axis":null,"scale":{"domain":[-10,416],"nice":false,"zero":false}},"text":{"field":"label"}}},
{"data":{"values":[{"day":207.75,"lvl":392,"label":"⚙"},{"day":212,"lvl":392,"label":"?"},{"day":215.5,"lvl":392,"label":"✕"}]},"mark":{"type":"text","align":"center","baseline":"middle","font":"DejaVu Sans","fontSize":13,"color":"#c0c0c0"},"encoding":{"x":{"field":"day","type":"quantitative","axis":null,"scale":{"domain":[-0.375,219.625],"nice":false,"zero":false}},"y":{"field":"lvl","type":"quantitative","axis":null,"scale":{"domain":[-10,416],"nice":false,"zero":false}},"text":{"field":"label"}}},
{"data":{"values":[{"day":42,"end":79.75,"hi":377,"lo":5}]},"mark":{"type":"rect","fill":"transparent","stroke":"#ee22ee","strokeWidth":3},"encoding":{"x":{"field":"day","type":"quantitative","axis":null,"scale":{"domain":[-0.375,219.625],"nice":false,"zero":false}},"x2":{"field":"end"},"y":{"field":"hi","type":"quantitative","axis":null,"scale":{"domain":[-10,416],"nice":false,"zero":false}},"y2":{"field":"lo"}}}
]}
]}
